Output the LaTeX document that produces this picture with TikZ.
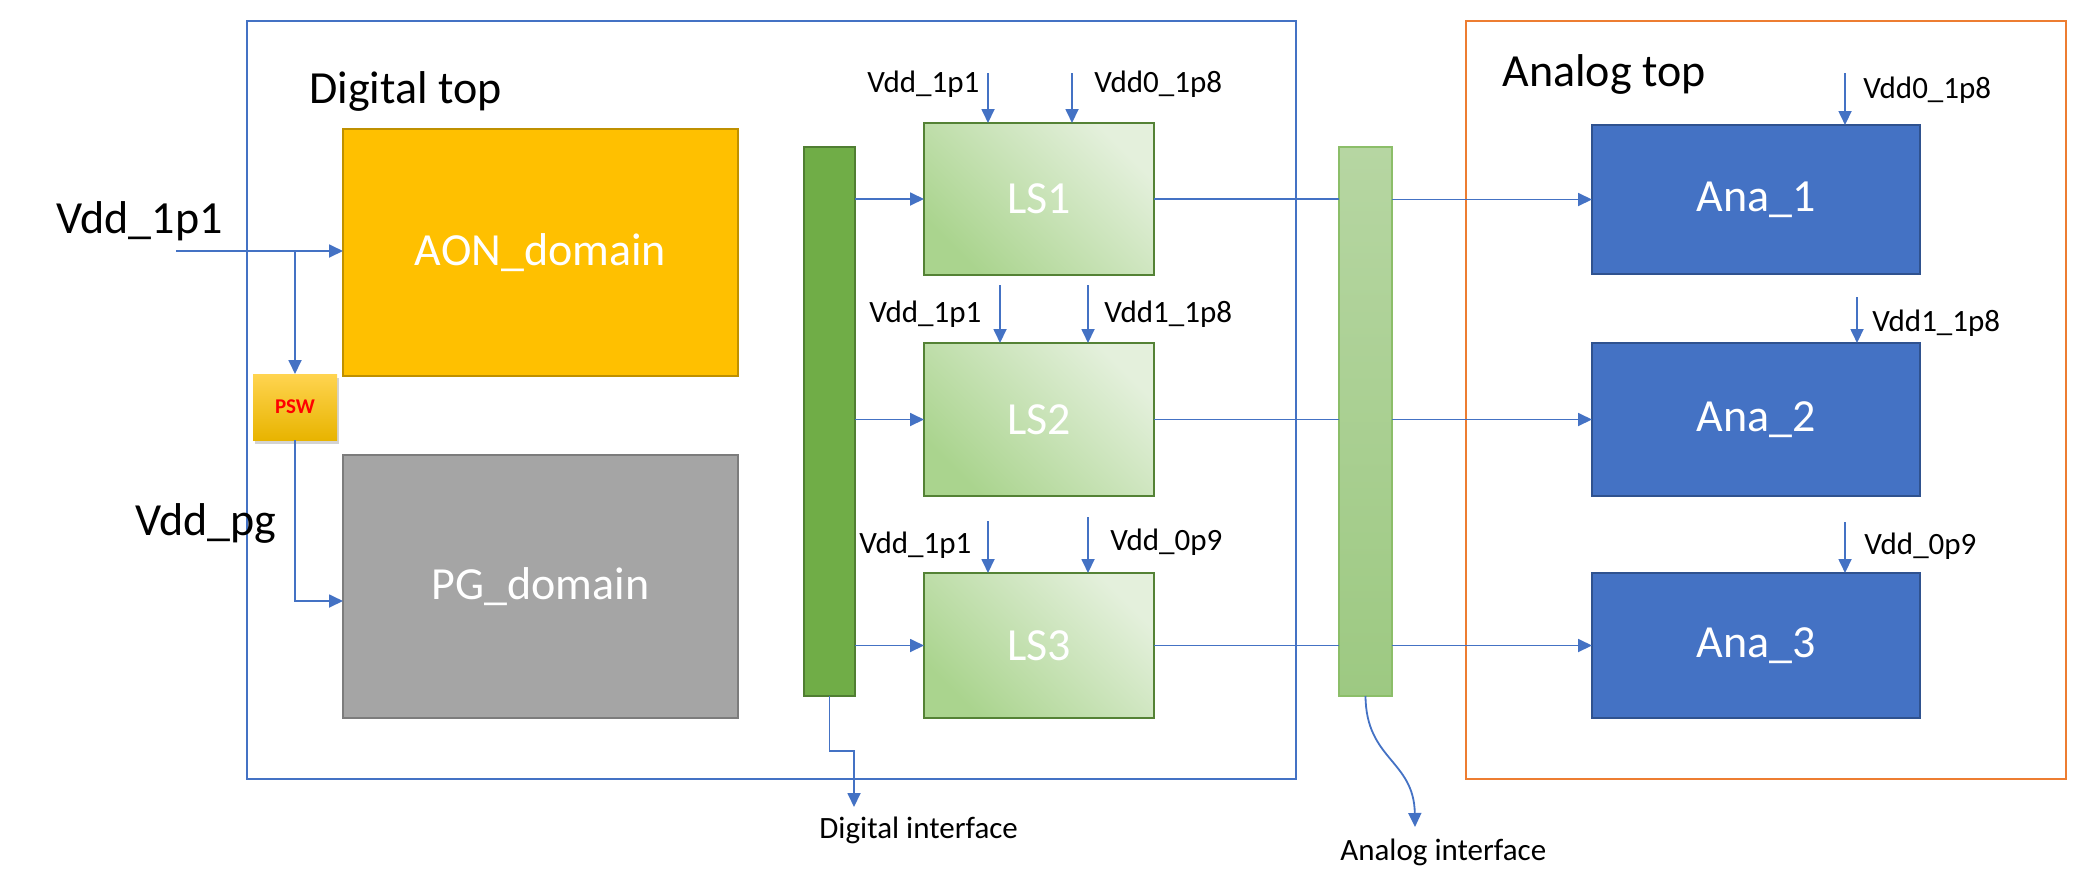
\documentclass[tikz,border=0pt]{standalone}
\usepackage{fontspec}
\setmainfont{Carlito}
\usepackage{tikz}
\usetikzlibrary{arrows.meta,shadows}
\definecolor{wire}{RGB}{68,114,196}
\definecolor{orng}{RGB}{237,125,49}
\definecolor{aonfill}{RGB}{255,192,0}
\definecolor{aonline}{RGB}{191,144,0}
\definecolor{pgfill}{RGB}{165,165,165}
\definecolor{pgline}{RGB}{124,124,124}
\definecolor{dgreen}{RGB}{112,173,71}
\definecolor{dgline}{RGB}{80,126,50}
\definecolor{lslight}{RGB}{228,240,220}
\definecolor{lsdark}{RGB}{170,212,142}
\definecolor{lsline}{RGB}{84,130,53}
\definecolor{abtop}{RGB}{182,214,162}
\definecolor{abbot}{RGB}{157,201,130}
\definecolor{abline}{RGB}{140,190,105}
\definecolor{anafill}{RGB}{68,114,196}
\definecolor{analine}{RGB}{47,82,143}
\definecolor{pswtop}{RGB}{255,212,80}
\definecolor{pswbot}{RGB}{232,180,0}

\begin{document}
\begin{tikzpicture}[x=0.5pt,y=-0.5pt,
      big/.style={font=\fontsize{23}{27}\selectfont},
      sm/.style={font=\fontsize{15.5}{18}\selectfont,inner sep=0pt,anchor=base west},
      blk/.style={draw,line width=1pt,outer sep=0pt,inner sep=0pt,text=white,big},
      dom/.style={blk,minimum width=197.5pt},
      lsbox/.style={blk,draw=lsline,top color=lslight,bottom color=lsdark,shading angle=-45,
                    minimum width=115pt},
      ana/.style={blk,draw=analine,fill=anafill,minimum width=164pt},
      bar/.style={draw,line width=1pt,outer sep=0pt,minimum width=25.5pt,minimum height=274.5pt},
      ar/.style={-{Triangle[length=7pt,width=6.5pt]},line width=0.9pt,color=wire},
      ln/.style={line width=0.9pt,color=wire}]
      \useasboundingbox (0,0) rectangle (2075,873);
      % top level boxes
      \draw[wire,line width=1.1pt] (247,21) rectangle (1296,779);
      \draw[orng,line width=1.1pt] (1466,21) rectangle (2066,779);
      \node[big,inner sep=0pt,anchor=base west] (dtop) at (309,103) {Digital top};
      \node[big,inner sep=0pt,anchor=base west] (atop) at (1502,86) {Analog top};
      % digital domains
      \node[dom,draw=aonline,fill=aonfill,minimum height=123.5pt] (aon) at (540.5,252.5) {AON\_domain};
      \node[dom,draw=pgline,fill=pgfill,minimum height=131.5pt] (pg) at (540.5,586.5) {PG\_domain};
      \node[outer sep=0pt,inner sep=0pt,minimum width=42pt,minimum height=33pt,top color=pswtop,bottom color=pswbot,
            drop shadow={opacity=0.35,shadow xshift=1pt,shadow yshift=-2pt},
            text=red,font=\fontsize{10.5}{12}\selectfont\bfseries] (psw) at (295,407) {PSW};
      \node[big,inner sep=0pt,anchor=base west] (vin) at (56,233) {Vdd\_1p1};
      \node[big,inner sep=0pt,anchor=base west] (vpg) at (135,535) {Vdd\_pg};
      % bars
      \node[bar,draw=dgline,fill=dgreen] (dbar) at (829.5,421.5) {};
      \node[bar,draw=abline,top color=abtop,bottom color=abbot,minimum width=26.5pt] (abar) at (1365.5,421.5) {};
      % level shifters
      \node[lsbox,minimum height=76pt] (ls1) at (1039,199) {LS1};
      \node[lsbox,minimum height=76.5pt] (ls2) at (1039,419.5) {LS2};
      \node[lsbox,minimum height=72.5pt] (ls3) at (1039,645.5) {LS3};
      % analog blocks
      \node[ana,minimum height=74.5pt] (ana1) at (1756,199.5) {Ana\_1};
      \node[ana,minimum height=76.5pt] (ana2) at (1756,419.5) {Ana\_2};
      \node[ana,minimum height=72.5pt] (ana3) at (1756,645.5) {Ana\_3};
      % supply labels
      \node[sm] (l1a) at (867,92) {Vdd\_1p1};
      \node[sm] (l1b) at (1094,92) {Vdd0\_1p8};
      \node[sm] (l2a) at (869,322) {Vdd\_1p1};
      \node[sm] (l2b) at (1104,322) {Vdd1\_1p8};
      \node[sm] (l3a) at (859,553) {Vdd\_1p1};
      \node[sm] (l3b) at (1110,550) {Vdd\_0p9};
      \node[sm] (la1) at (1863,98) {Vdd0\_1p8};
      \node[sm] (la2) at (1872,331) {Vdd1\_1p8};
      \node[sm] (la3) at (1864,554) {Vdd\_0p9};
      \node[sm] (dif) at (819,838) {Digital interface};
      \node[sm] (aif) at (1340,860) {Analog interface};
      % free ends
      \coordinate (vsrc) at (176,251);
      \coordinate (tap) at (295,251);
      \coordinate (s1a) at (988,73);  \coordinate (s1b) at (1072,73);
      \coordinate (s2a) at (1000,285); \coordinate (s2b) at (1088,285);
      \coordinate (s3a) at (988,521); \coordinate (s3b) at (1088,517);
      \coordinate (sa1) at (1845,73); \coordinate (sa2) at (1857,297); \coordinate (sa3) at (1845,522);
      \coordinate (dout) at (854,807);
      \coordinate (aout) at (1415,827);
      % power
      \draw[ar] (vsrc) -- (aon.west |- vsrc);
      \draw[ar] (tap) -- (psw.north);
      \draw[ar] (psw.south) |- (pg.west |- 0,601);
      \foreach \s/\b in {s1a/ls1,s1b/ls1,s2a/ls2,s2b/ls2,s3a/ls3,s3b/ls3,sa1/ana1,sa2/ana2,sa3/ana3}
        \draw[ar] (\s) -- (\b.north -| \s);
      % signals
      \foreach \i in {1,2,3}{
        \draw[ar] (dbar.east |- ls\i) -- (ls\i.west);
        \draw[ln] (ls\i.east) -- (abar.west |- ls\i);
        \draw[ar] (abar.east |- ana\i) -- (ana\i.west);
      }
      \draw[ar] (dbar.south) -- ++(0,55) -| (dout);
      \draw[ar] (abar.south) .. controls (1366,760) and (1414,760) .. (aout);
    \end{tikzpicture}
\end{document}
